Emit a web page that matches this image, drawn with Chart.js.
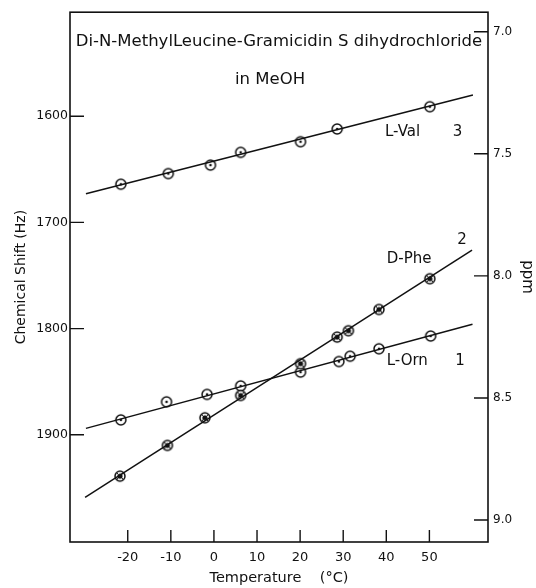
<!DOCTYPE html>
<html>
<head>
<meta charset="utf-8">
<script src="https://cdn.jsdelivr.net/npm/chart.js@4/dist/chart.umd.min.js"></script>
<style>
	html, body { margin: 0; padding: 0; background: #fff; }
	#wrap { width: 536px; height: 588px; }
</style>
</head>
<body>
<div id="wrap"><canvas id="shiftChart"></canvas></div>
<script>
// values (temperature in deg C, shift in Hz)
const valTemp = [-21.6, -10.6, -0.8, 6.2, 20.1, 28.6, 50.1];
const valShift = [1664, 1654, 1646, 1634, 1624, 1612, 1591];
const valFit = [[-29.7, 1673], [60.1, 1580]];

const pheTemp = [-21.8, -10.8, -2.1, 6.2, 20.1, 28.6, 31.2, 38.3, 50.1];
const pheShift = [1939, 1910, 1884, 1863, 1833, 1808, 1802, 1782, 1753];
const pheFit = [[-29.9, 1959], [59.9, 1726]];

const ornTemp = [-21.6, -11.0, -1.6, 6.2, 20.1, 29.0, 31.6, 38.3, 50.3];
const ornShift = [1886, 1869, 1862, 1854, 1841, 1831, 1826, 1819, 1807];
const ornFit = [[-29.7, 1894], [60.0, 1796]];

const tempTicks = [-20, -10, 0, 10, 20, 30, 40, 50];
const hzTicks = [1600, 1700, 1800, 1900];
const ppmTicks = [7.0, 7.5, 8.0, 8.5, 9.0];

// series labels, anchored in data units [text, temp, shift, align]
const seriesLabels = [
	["L-Val", 39.7, 1615, "left"],
	["3", 56.5, 1615, "center"],
	["2", 57.6, 1717, "center"],
	["D-Phe", 40.1, 1735, "left"],
	["L-Orn", 40.1, 1831, "left"],
	["1", 57.1, 1831, "center"]
];

const ink = "#111";
const font = "'DejaVu Sans', sans-serif";

function toPoints(xs, ys) {
	return xs.map((x, i) => ({x: x, y: ys[i]}));
}

function fitPoints(pair) {
	return pair.map(p => ({x: p[0], y: p[1]}));
}

// little marker glyphs: open circle with a dot, and a heavier one for D-Phe
function makeMarker(heavy) {
	const c = document.createElement("canvas");
	c.width = 14; c.height = 14;
	const g = c.getContext("2d");
	g.fillStyle = "#fff";
	g.strokeStyle = ink;
	g.lineWidth = 1.5;
	g.beginPath();
	g.arc(7, 7, 5, 0, Math.PI * 2);
	g.fill();
	g.stroke();
	g.fillStyle = ink;
	g.beginPath();
	g.arc(7, 7, heavy ? 2.6 : 1.3, 0, Math.PI * 2);
	g.fill();
	if (heavy) {
		g.lineWidth = 1;
		g.beginPath();
		g.moveTo(3.6, 10.4); g.lineTo(10.4, 3.6);
		g.moveTo(3.6, 3.6); g.lineTo(10.4, 10.4);
		g.stroke();
	}
	return c;
}

const openMarker = makeMarker(false);
const heavyMarker = makeMarker(true);

function pointSet(data, marker) {
	return {
		data: data,
		showLine: false,
		pointStyle: marker,
		pointRadius: 6,
		yAxisID: "y"
	};
}

function lineSet(data) {
	return {
		data: data,
		showLine: true,
		borderColor: ink,
		borderWidth: 1.5,
		pointRadius: 0,
		yAxisID: "y"
	};
}

function setTicks(values) {
	return function (scale) {
		scale.ticks = values.map(v => ({value: v}));
	};
}

// frame, inward tick marks, title and series labels
const decorations = {
	id: "decorations",
	afterDraw(chart) {
		const ctx = chart.ctx;
		const a = chart.chartArea;
		const sx = chart.scales.x, sy = chart.scales.y, sp = chart.scales.y2;
		ctx.save();
		ctx.strokeStyle = ink;
		ctx.lineWidth = 1.6;
		ctx.strokeRect(a.left, a.top, a.right - a.left, a.bottom - a.top);

		ctx.lineWidth = 1.4;
		ctx.beginPath();
		tempTicks.forEach(v => {
			const px = sx.getPixelForValue(v);
			ctx.moveTo(px, a.bottom);
			ctx.lineTo(px, a.bottom - 12);
		});
		hzTicks.forEach(v => {
			const py = sy.getPixelForValue(v);
			ctx.moveTo(a.left, py);
			ctx.lineTo(a.left + 14, py);
		});
		ppmTicks.forEach(v => {
			const py = sp.getPixelForValue(v);
			ctx.moveTo(a.right, py);
			ctx.lineTo(a.right - 14, py);
		});
		ctx.stroke();

		ctx.fillStyle = ink;
		ctx.textBaseline = "middle";
		ctx.textAlign = "center";
		ctx.font = "16.5px " + font;
		ctx.fillText("Di-N-MethylLeucine-Gramicidin S dihydrochloride", (a.left + a.right) / 2, 42);
		ctx.fillText("in MeOH", 270, 80);

		ctx.font = "15px " + font;
		seriesLabels.forEach(l => {
			ctx.textAlign = l[3];
			ctx.fillText(l[0], sx.getPixelForValue(l[1]), sy.getPixelForValue(l[2]));
		});
		ctx.restore();
	}
};

const hiddenGrid = { display: false, drawTicks: false, tickLength: 0 };

new Chart(document.getElementById("shiftChart"), {
	type: "scatter",
	data: {
		datasets: [
			lineSet(fitPoints(valFit)),
			lineSet(fitPoints(pheFit)),
			lineSet(fitPoints(ornFit)),
			pointSet(toPoints(valTemp, valShift), openMarker),
			pointSet(toPoints(pheTemp, pheShift), heavyMarker),
			pointSet(toPoints(ornTemp, ornShift), openMarker)
		]
	},
	options: {
		responsive: true,
		maintainAspectRatio: false,
		animation: false,
		layout: { padding: { top: 12, left: 0, right: 0, bottom: 0 } },
		plugins: {
			legend: { display: false },
			tooltip: { enabled: false }
		},
		scales: {
			x: {
				type: "linear",
				position: "bottom",
				min: -33.4,
				max: 63.6,
				afterBuildTicks: setTicks(tempTicks),
				afterFit: s => { s.height = 46; },
				grid: hiddenGrid,
				border: { display: false },
				ticks: { color: ink, padding: 8, font: { family: font, size: 13 } },
				title: {
					display: true,
					text: "Temperature    (°C)",
					color: ink,
					padding: { top: 0, bottom: 1 },
					font: { family: font, size: 14.5 }
				}
			},
			y: {
				type: "linear",
				position: "left",
				reverse: true,
				min: 1502,
				max: 2001,
				afterBuildTicks: setTicks(hzTicks),
				afterFit: s => { s.width = 70; },
				grid: hiddenGrid,
				border: { display: false },
				ticks: {
					color: ink,
					padding: 2,
					font: { family: font, size: 12.5 },
					callback: v => String(v)
				},
				title: {
					display: true,
					text: "Chemical Shift (Hz)",
					color: ink,
					padding: { top: 13, bottom: 0 },
					font: { family: font, size: 14 }
				}
			},
			y2: {
				type: "linear",
				position: "right",
				reverse: true,
				min: 6.92,
				max: 9.09,
				afterBuildTicks: setTicks(ppmTicks),
				afterFit: s => { s.width = 48; },
				grid: hiddenGrid,
				border: { display: false },
				ticks: {
					color: ink,
					padding: 5,
					font: { family: font, size: 12 },
					callback: v => v.toFixed(1)
				},
				title: {
					display: true,
					text: "ppm",
					color: ink,
					padding: { top: 0, bottom: 0 },
					font: { family: font, size: 15 }
				}
			}
		}
	},
	plugins: [decorations]
});
</script>
</body>
</html>
